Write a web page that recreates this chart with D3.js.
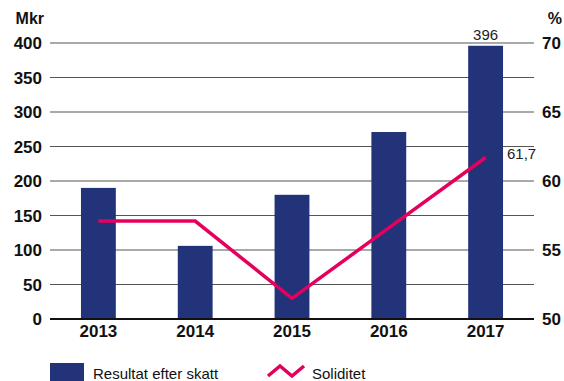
<!DOCTYPE html>
<html>
<head>
<meta charset="utf-8">
<script src="https://cdn.jsdelivr.net/npm/d3@7"></script>
<style>
  body { margin: 0; background: #fff; }
  svg { font-family: "Liberation Sans", Arial, sans-serif; }
</style>
</head>
<body>
<script>
// data
var years = ["2013", "2014", "2015", "2016", "2017"];
var resultat = [190, 106, 180, 271, 396];
var soliditet = [57.1, 57.1, 51.5, 56.6, 61.7];
var leftTicks = [0, 50, 100, 150, 200, 250, 300, 350, 400];
var rightTicks = [50, 55, 60, 65, 70];

var W = 564, H = 381;
var margin = { top: 43, right: 30, bottom: 62, left: 50 },
    width = W - margin.left - margin.right,
    height = H - margin.top - margin.bottom;

var barColor = "#22337a", lineColor = "#e4005b";

var svg = d3.select("body").append("svg")
    .attr("width", W)
    .attr("height", H);

var g = svg.append("g")
    .attr("transform", "translate(" + margin.left + "," + margin.top + ")");

var x = d3.scaleBand().domain(years).range([0, width]).paddingInner(0.64).paddingOuter(0.32);
var y = d3.scaleLinear().domain([0, 400]).range([height, 0]);
var y2 = d3.scaleLinear().domain([50, 70]).range([height, 0]);

// stödlinjer
g.append("g")
    .selectAll("line")
    .data(leftTicks.slice(1))
    .enter().append("line")
    .attr("x1", 0)
    .attr("x2", width)
    .attr("y1", function (d) { return y(d); })
    .attr("y2", function (d) { return y(d); })
    .attr("stroke", "#555")
    .attr("stroke-width", 1.2);

// staplar
g.append("g")
    .selectAll("rect")
    .data(resultat)
    .enter().append("rect")
    .attr("x", function (d, i) { return x(years[i]); })
    .attr("y", function (d) { return y(d); })
    .attr("width", x.bandwidth())
    .attr("height", function (d) { return height - y(d); })
    .attr("fill", barColor);

// x-axel
g.append("line")
    .attr("x1", 0).attr("x2", width)
    .attr("y1", height).attr("y2", height)
    .attr("stroke", "#111").attr("stroke-width", 2);

g.append("g")
    .selectAll("text")
    .data(years)
    .enter().append("text")
    .attr("x", function (d) { return x(d) + x.bandwidth() / 2; })
    .attr("y", height + 18)
    .attr("text-anchor", "middle")
    .attr("font-weight", "bold")
    .attr("font-size", 17)
    .attr("fill", "#111")
    .text(function (d) { return d; });

// linje
var line = d3.line()
    .x(function (d, i) { return x(years[i]) + x.bandwidth() / 2; })
    .y(function (d) { return y2(d); });

g.append("path")
    .datum(soliditet)
    .attr("d", line)
    .attr("fill", "none")
    .attr("stroke", lineColor)
    .attr("stroke-width", 3.5);

// vänster axel
g.append("g")
    .selectAll("text")
    .data(leftTicks)
    .enter().append("text")
    .attr("x", -8)
    .attr("y", function (d) { return y(d); })
    .attr("dy", "0.36em")
    .attr("text-anchor", "end")
    .attr("font-weight", "bold")
    .attr("font-size", 17)
    .attr("fill", "#111")
    .text(function (d) { return d; });

g.append("text")
    .attr("x", -6).attr("y", -19)
    .attr("text-anchor", "end")
    .attr("font-weight", "bold")
    .attr("font-size", 16)
    .attr("fill", "#111")
    .text("Mkr");

// höger axel
g.append("g")
    .selectAll("text")
    .data(rightTicks)
    .enter().append("text")
    .attr("x", width + 8)
    .attr("y", function (d) { return y2(d); })
    .attr("dy", "0.36em")
    .attr("text-anchor", "start")
    .attr("font-weight", "bold")
    .attr("font-size", 17)
    .attr("fill", "#111")
    .text(function (d) { return d; });

g.append("text")
    .attr("x", width + 28).attr("y", -19)
    .attr("text-anchor", "end")
    .attr("font-weight", "bold")
    .attr("font-size", 16)
    .attr("fill", "#111")
    .text("%");

// värdeetiketter
var last = years.length - 1;
g.append("text")
    .attr("x", x(years[last]) + x.bandwidth() / 2)
    .attr("y", y(resultat[last]) - 6)
    .attr("text-anchor", "middle")
    .attr("font-size", 15)
    .attr("fill", "#222")
    .text(resultat[last]);

g.append("text")
    .attr("x", x(years[last]) + x.bandwidth() + 4)
    .attr("y", y2(soliditet[last]))
    .attr("dy", "0.1em")
    .attr("font-size", 15)
    .attr("fill", "#222")
    .text(String(soliditet[last]).replace(".", ","));

// legend
var leg = svg.append("g").attr("font-size", 15).attr("fill", "#111");
leg.append("rect")
    .attr("x", 50).attr("y", 363).attr("width", 34).attr("height", 18)
    .attr("fill", barColor);
leg.append("text")
    .attr("x", 93).attr("y", 379)
    .text("Resultat efter skatt");
leg.append("path")
    .attr("d", "M268,376 L280,366 L292,376 L304,366")
    .attr("fill", "none")
    .attr("stroke", lineColor)
    .attr("stroke-width", 3.5);
leg.append("text")
    .attr("x", 312).attr("y", 379)
    .text("Soliditet");
</script>
</body>
</html>
